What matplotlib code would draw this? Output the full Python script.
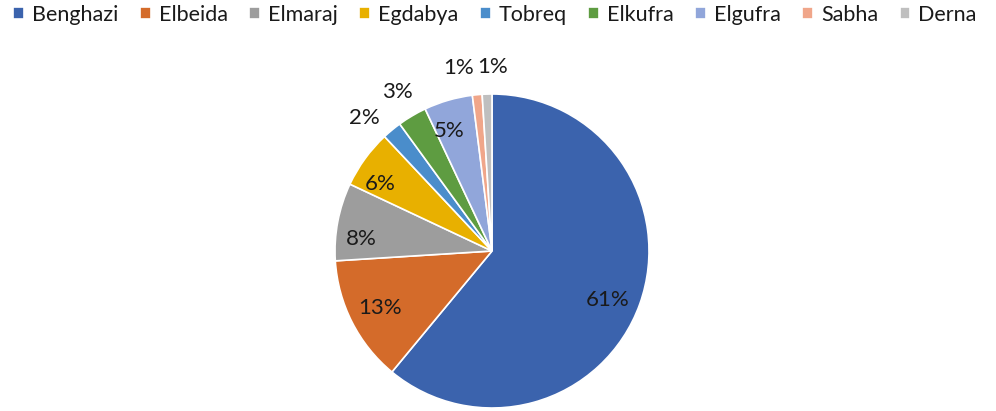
import numpy as np
import matplotlib.pyplot as plt

# data
cities = ["Benghazi", "Elbeida", "Elmaraj", "Egdabya", "Tobreq", "Elkufra", "Elgufra", "Sabha", "Derna"]
shares = [61, 13, 8, 6, 2, 3, 5, 1, 1]
labels = ["61%", "13%", "8%", "6%", "2%", "3%", "5%", "1%", "1%"]

colors = ["#3b63ad", "#d46b2a", "#9d9d9d", "#e8b000", "#4a8dcb", "#5e9c41", "#91a6da", "#f0a68a", "#bfbfbf"]
# label radius plus small nudges (axes units) to sit like the original
label_r = [0.78, 0.8, 0.85, 0.83, 1.18, 1.18, 0.83, 1.18, 1.18]
label_dx = [0, 0, 0, -0.04, -0.06, 0, -0.04, -0.1, 0.04]
label_dy = [-0.05, 0, -0.08, -0.06, -0.06, 0, -0.03, -0.01, -0.01]

plt.rcParams['font.family'] = ['Lato', 'DejaVu Sans']

W, H = 996, 411
fig = plt.figure(figsize=(W / 100, H / 100), dpi=100)
cx, cy, r = 492, 251, 157
ax = fig.add_axes([(cx - r) / W, (H - cy - r) / H, 2 * r / W, 2 * r / H])

wedges, _ = ax.pie(shares, colors=colors, startangle=90, counterclock=False,
                   wedgeprops=dict(edgecolor="white", linewidth=1.2))
ax.set_xlim(-1, 1)
ax.set_ylim(-1, 1)
ax.set_aspect("equal")

for w, lab, rr, dx, dy in zip(wedges, labels, label_r, label_dx, label_dy):
    ang = np.deg2rad((w.theta1 + w.theta2) / 2)
    ax.text(rr * np.cos(ang) + dx, rr * np.sin(ang) + dy, lab, ha="center", va="center",
            fontsize=16, color="#1a1a1a", clip_on=False)

fig.legend(wedges, cities, loc="upper center", bbox_to_anchor=(0.497, 1.035), ncol=9,
           frameon=False, fontsize=15.5, handlelength=0.5, handleheight=0.5,
           handletextpad=0.37, columnspacing=1.0, labelcolor="#1a1a1a")

fig.savefig("out.png", dpi=100)
